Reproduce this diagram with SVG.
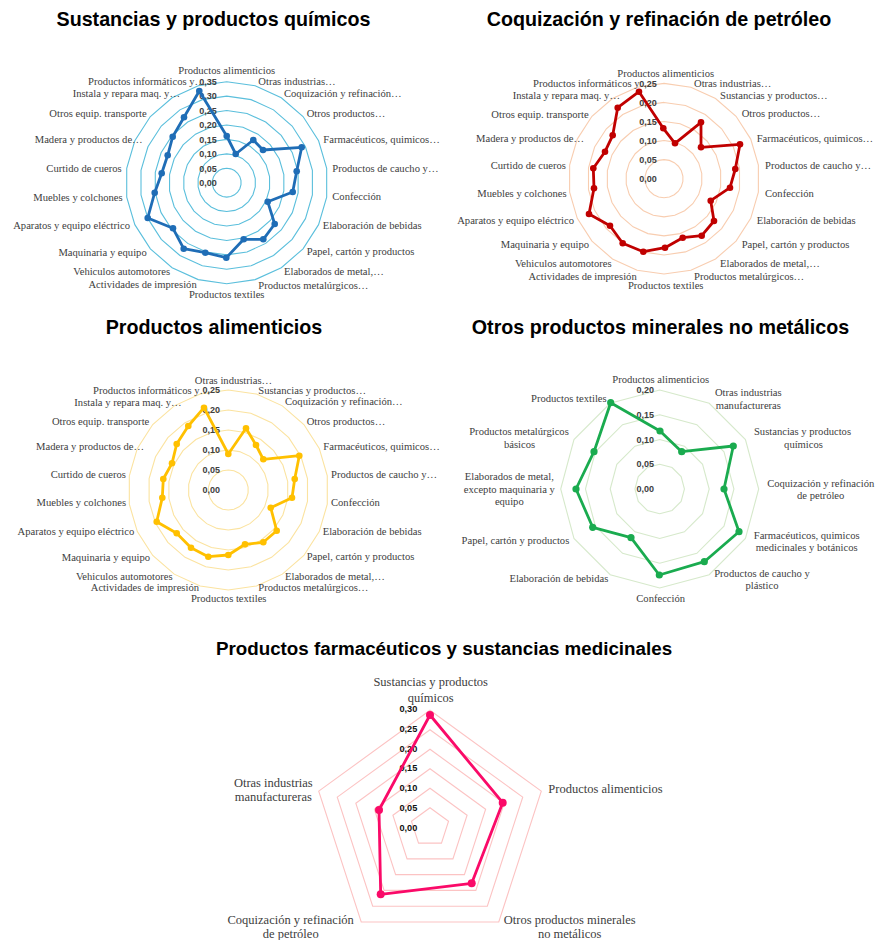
<svg xmlns="http://www.w3.org/2000/svg" xmlns:xlink="http://www.w3.org/1999/xlink" width="877" height="940" viewBox="0 0 877 940">
<style>
.bg{fill:#ffffff}
.t{font-family:"Liberation Sans",Arial,sans-serif;font-weight:bold;font-size:19.7px;fill:#000;text-anchor:middle}
.t5{font-size:18.8px}
.c{font-family:"Liberation Serif","Times New Roman",serif;font-size:10.6px;fill:#404040}
.c5{font-size:12.5px}
.s{text-anchor:start}
.e{text-anchor:end}
.m{text-anchor:middle}
.v{font-family:"Liberation Sans",Arial,sans-serif;font-weight:bold;font-size:9px;fill:#404040;text-anchor:end}
.v5{font-size:9.2px;fill:#111}
.r1{stroke:#5BBFDC}
.r2{stroke:#F8CDB0}
.r3{stroke:#FBE3A0}
.r4{stroke:#D6E9CB}
.r5{stroke:#FCC3C3}
.d{fill:none;stroke-width:2.8;stroke-linejoin:round}
.d1{stroke:#1F6DB6}.k1{fill:#1F6DB6}
.d2{stroke:#C00000}.k2{fill:#C00000}
.d3{stroke:#FFC000}.k3{fill:#FFC000}
.d4{stroke:#1AAB4F}.k4{fill:#1AAB4F}
.d5{stroke:#FA0A68}.k5{fill:#FA0A68}
</style>
<defs>
<polygon id="g22" fill="none" points="0,-100 28.17,-95.95 54.06,-84.13 75.57,-65.49 90.96,-41.54 98.98,-14.23 98.98,14.23 90.96,41.54 75.57,65.49 54.06,84.13 28.17,95.95 0,100 -28.17,95.95 -54.06,84.13 -75.57,65.49 -90.96,41.54 -98.98,14.23 -98.98,-14.23 -90.96,-41.54 -75.57,-65.49 -54.06,-84.13 -28.17,-95.95"/>
<polygon id="g12" fill="none" points="0,-100 50,-86.6 86.6,-50 100,0 86.6,50 50,86.6 0,100 -50,86.6 -86.6,50 -100,0 -86.6,-50 -50,-86.6"/>
<polygon id="g5" fill="none" points="0,-100 95.11,-30.9 58.78,80.9 -58.78,80.9 -95.11,-30.9"/>
</defs>
<rect class="bg" x="0" y="0" width="877" height="940"/>

<g id="chart-sustancias">
<text class="t" x="213.5" y="26">Sustancias y productos químicos</text>
<g id="grid1" class="r1">
<use xlink:href="#g22" transform="translate(226.7,182.7) scale(0.1443)" stroke-width="7.62"/>
<use xlink:href="#g22" transform="translate(226.7,182.7) scale(0.2886)" stroke-width="3.81"/>
<use xlink:href="#g22" transform="translate(226.7,182.7) scale(0.4329)" stroke-width="2.54"/>
<use xlink:href="#g22" transform="translate(226.7,182.7) scale(0.5772)" stroke-width="1.906"/>
<use xlink:href="#g22" transform="translate(226.7,182.7) scale(0.7215)" stroke-width="1.525"/>
<use xlink:href="#g22" transform="translate(226.7,182.7) scale(0.8658)" stroke-width="1.27"/>
<use xlink:href="#g22" transform="translate(226.7,182.7) scale(1.0101)" stroke-width="1.089"/>
</g>
<g class="c">
<text class="m" x="226.7" y="73.7">Productos alimenticios</text>
<text class="s" x="258.3" y="85.3">Otras industrias…</text>
<text class="s" x="284" y="97.3">Coquización y refinación…</text>
<text class="s" x="306.7" y="117">Otros productos…</text>
<text class="s" x="323.3" y="142.7">Farmacéuticos, quimicos…</text>
<text class="s" x="332.3" y="172">Productos de caucho y…</text>
<text class="s" x="332.3" y="200.3">Confección</text>
<text class="s" x="322.7" y="229.3">Elaboración de bebidas</text>
<text class="s" x="306.7" y="255.3">Papel, cartón y productos</text>
<text class="s" x="284" y="275.3">Elaborados de metal,…</text>
<text class="s" x="258.3" y="288.7">Productos metalúrgicos…</text>
<text class="m" x="226.7" y="298">Productos textiles</text>
<text class="e" x="196.7" y="287.7">Actividades de impresión</text>
<text class="e" x="170" y="275.3">Vehiculos automotores</text>
<text class="e" x="146.7" y="256">Maquinaria y equipo</text>
<text class="e" x="130" y="229.3">Aparatos y equipo eléctrico</text>
<text class="e" x="122.7" y="201">Muebles y colchones</text>
<text class="e" x="121.7" y="172">Curtido de cueros</text>
<text class="e" x="142.7" y="142.7">Madera y productos de…</text>
<text class="e" x="146.7" y="117">Otros equip. transporte</text>
<text class="e" x="180" y="97.3">Instala y repara maq. y…</text>
<text class="s" x="88" y="85.3">Productos informáticos y…</text>
</g>
<g class="v">
<text x="216.7" y="84.9">0,35</text><text x="216.7" y="99.3">0,30</text><text x="216.7" y="113.8">0,25</text><text x="216.7" y="128.2">0,20</text><text x="216.7" y="142.6">0,15</text><text x="216.7" y="157.1">0,10</text><text x="216.7" y="171.5">0,05</text><text x="216.7" y="185.9">0,00</text>
</g>
<polygon class="d d1" points="226.7,136 235.7,154 253.3,140 263,150 301.7,147.3 296.7,171.3 292.7,192 267.7,201.7 274.7,224 263.3,239.3 243.7,239.3 226.3,257.7 205.3,252.7 183.7,248.7 173,228.3 147.7,218 154.7,192.7 161.7,173.3 167.7,155.3 172.7,136.7 184,117.3 199.3,91"/>
<g class="k1">
<circle cx="226.7" cy="136" r="3.3"/><circle cx="235.7" cy="154" r="3.3"/><circle cx="253.3" cy="140" r="3.3"/><circle cx="263" cy="150" r="3.3"/><circle cx="301.7" cy="147.3" r="3.3"/><circle cx="296.7" cy="171.3" r="3.3"/><circle cx="292.7" cy="192" r="3.3"/><circle cx="267.7" cy="201.7" r="3.3"/><circle cx="274.7" cy="224" r="3.3"/><circle cx="263.3" cy="239.3" r="3.3"/><circle cx="243.7" cy="239.3" r="3.3"/><circle cx="226.3" cy="257.7" r="3.3"/><circle cx="205.3" cy="252.7" r="3.3"/><circle cx="183.7" cy="248.7" r="3.3"/><circle cx="173" cy="228.3" r="3.3"/><circle cx="147.7" cy="218" r="3.3"/><circle cx="154.7" cy="192.7" r="3.3"/><circle cx="161.7" cy="173.3" r="3.3"/><circle cx="167.7" cy="155.3" r="3.3"/><circle cx="172.7" cy="136.7" r="3.3"/><circle cx="184" cy="117.3" r="3.3"/><circle cx="199.3" cy="91" r="3.3"/>
</g>
</g>

<g id="chart-coquizacion">
<text class="t" x="659" y="26">Coquización y refinación de petróleo</text>
<g id="grid2" class="r2">
<use xlink:href="#g22" transform="translate(664,178.7) scale(0.1907)" stroke-width="5.77"/>
<use xlink:href="#g22" transform="translate(664,178.7) scale(0.3814)" stroke-width="2.88"/>
<use xlink:href="#g22" transform="translate(664,178.7) scale(0.5721)" stroke-width="1.92"/>
<use xlink:href="#g22" transform="translate(664,178.7) scale(0.7628)" stroke-width="1.44"/>
<use xlink:href="#g22" transform="translate(664,178.7) scale(0.9535)" stroke-width="1.154"/>
</g>
<g class="c">
<text class="m" x="665.7" y="77">Productos alimenticios</text>
<text class="s" x="694" y="87">Otras industrias…</text>
<text class="s" x="720" y="98.7">Sustancias y productos…</text>
<text class="s" x="741.7" y="117">Otros productos…</text>
<text class="s" x="756.7" y="141.7">Farmacéuticos, quimicos…</text>
<text class="s" x="765" y="168.7">Productos de caucho y…</text>
<text class="s" x="765" y="197">Confección</text>
<text class="s" x="756.7" y="223.7">Elaboración de bebidas</text>
<text class="s" x="741.7" y="248">Papel, cartón y productos</text>
<text class="s" x="720" y="267">Elaborados de metal,…</text>
<text class="s" x="694" y="279.7">Productos metalúrgicos…</text>
<text class="m" x="665.7" y="289">Productos textiles</text>
<text class="e" x="636.7" y="279.7">Actividades de impresión</text>
<text class="e" x="611.7" y="267">Vehiculos automotores</text>
<text class="e" x="589" y="248">Maquinaria y equipo</text>
<text class="e" x="574" y="223.7">Aparatos y equipo eléctrico</text>
<text class="e" x="566.7" y="197">Muebles y colchones</text>
<text class="e" x="566" y="168.7">Curtido de cueros</text>
<text class="e" x="584" y="141.7">Madera y productos de…</text>
<text class="e" x="588.7" y="117.7">Otros equip. transporte</text>
<text class="e" x="620" y="99">Instala y repara maq. y…</text>
<text class="s" x="533" y="87">Productos informáticos y…</text>
</g>
<g class="v">
<text x="656.7" y="86.5">0,25</text><text x="656.7" y="105.6">0,20</text><text x="656.7" y="124.7">0,15</text><text x="656.7" y="143.8">0,10</text><text x="656.7" y="162.8">0,05</text><text x="656.7" y="181.9">0,00</text>
</g>
<polygon class="d d2" points="663.3,128.3 675,143.3 701,122.3 701,147.3 740,144.3 735.3,169 730,187.7 710.7,200.7 714,221 701.7,235.7 682.7,237.7 665,247.7 643.3,251.7 622.7,243.3 610,225.7 589,214 594,188.3 593.3,168.3 605,151.7 612.7,135.3 617.7,107.7 639,91.7"/>
<g class="k2">
<circle cx="663.3" cy="128.3" r="3.3"/><circle cx="675" cy="143.3" r="3.3"/><circle cx="701" cy="122.3" r="3.3"/><circle cx="701" cy="147.3" r="3.3"/><circle cx="740" cy="144.3" r="3.3"/><circle cx="735.3" cy="169" r="3.3"/><circle cx="730" cy="187.7" r="3.3"/><circle cx="710.7" cy="200.7" r="3.3"/><circle cx="714" cy="221" r="3.3"/><circle cx="701.7" cy="235.7" r="3.3"/><circle cx="682.7" cy="237.7" r="3.3"/><circle cx="665" cy="247.7" r="3.3"/><circle cx="643.3" cy="251.7" r="3.3"/><circle cx="622.7" cy="243.3" r="3.3"/><circle cx="610" cy="225.7" r="3.3"/><circle cx="589" cy="214" r="3.3"/><circle cx="594" cy="188.3" r="3.3"/><circle cx="593.3" cy="168.3" r="3.3"/><circle cx="605" cy="151.7" r="3.3"/><circle cx="612.7" cy="135.3" r="3.3"/><circle cx="617.7" cy="107.7" r="3.3"/><circle cx="639" cy="91.7" r="3.3"/>
</g>
</g>

<g id="chart-alimenticios">
<text class="t" x="214" y="334">Productos alimenticios</text>
<g id="grid3" class="r3">
<use xlink:href="#g22" transform="translate(228.3,490) scale(0.2)" stroke-width="5.5"/>
<use xlink:href="#g22" transform="translate(228.3,490) scale(0.4)" stroke-width="2.75"/>
<use xlink:href="#g22" transform="translate(228.3,490) scale(0.6)" stroke-width="1.833"/>
<use xlink:href="#g22" transform="translate(228.3,490) scale(0.8)" stroke-width="1.375"/>
<use xlink:href="#g22" transform="translate(228.3,490) scale(1)" stroke-width="1.1"/>
</g>
<g class="c">
<text class="m" x="233.5" y="383.7">Otras industrias…</text>
<text class="s" x="258.3" y="393.7">Sustancias y productos…</text>
<text class="s" x="285" y="405.3">Coquización y refinación…</text>
<text class="s" x="306.7" y="425.3">Otros productos…</text>
<text class="s" x="323.3" y="450.3">Farmacéuticos, quimicos…</text>
<text class="s" x="331" y="478">Productos de caucho y…</text>
<text class="s" x="331" y="506.3">Confección</text>
<text class="s" x="322.7" y="534.7">Elaboración de bebidas</text>
<text class="s" x="306.7" y="560.3">Papel, cartón y productos</text>
<text class="s" x="285" y="579.7">Elaborados de metal,…</text>
<text class="s" x="258.3" y="591.3">Productos metalúrgicos…</text>
<text class="m" x="228.7" y="602">Productos textiles</text>
<text class="e" x="199" y="591.3">Actividades de impresión</text>
<text class="e" x="172.7" y="579.7">Vehiculos automotores</text>
<text class="e" x="150" y="561">Maquinaria y equipo</text>
<text class="e" x="134.3" y="535.3">Aparatos y equipo eléctrico</text>
<text class="e" x="126" y="506.3">Muebles y colchones</text>
<text class="e" x="126" y="478">Curtido de cueros</text>
<text class="e" x="144" y="450.3">Madera y productos de…</text>
<text class="e" x="149.3" y="425.3">Otros equip. transporte</text>
<text class="e" x="181.7" y="406">Instala y repara maq. y…</text>
<text class="s" x="93" y="393.7">Productos informáticos y…</text>
</g>
<g class="v">
<text x="220" y="393.2">0,25</text><text x="220" y="413.2">0,20</text><text x="220" y="433.2">0,15</text><text x="220" y="453.2">0,10</text><text x="220" y="473.2">0,05</text><text x="220" y="493.2">0,00</text>
</g>
<polygon class="d d3" points="228.3,454 246,428.3 256,445 263.3,459.3 299.3,455.7 294.7,479 292,497.7 270.7,507.7 276.7,530.7 263.3,542.3 245,544.3 228.3,555 208.3,556.7 191,547.7 176.7,533.3 156.7,521.7 162.3,497.7 163.3,479 172,463.3 176.7,444 188.3,426 204,407.7"/>
<g class="k3">
<circle cx="228.3" cy="454" r="3.3"/><circle cx="246" cy="428.3" r="3.3"/><circle cx="256" cy="445" r="3.3"/><circle cx="263.3" cy="459.3" r="3.3"/><circle cx="299.3" cy="455.7" r="3.3"/><circle cx="294.7" cy="479" r="3.3"/><circle cx="292" cy="497.7" r="3.3"/><circle cx="270.7" cy="507.7" r="3.3"/><circle cx="276.7" cy="530.7" r="3.3"/><circle cx="263.3" cy="542.3" r="3.3"/><circle cx="245" cy="544.3" r="3.3"/><circle cx="228.3" cy="555" r="3.3"/><circle cx="208.3" cy="556.7" r="3.3"/><circle cx="191" cy="547.7" r="3.3"/><circle cx="176.7" cy="533.3" r="3.3"/><circle cx="156.7" cy="521.7" r="3.3"/><circle cx="162.3" cy="497.7" r="3.3"/><circle cx="163.3" cy="479" r="3.3"/><circle cx="172" cy="463.3" r="3.3"/><circle cx="176.7" cy="444" r="3.3"/><circle cx="188.3" cy="426" r="3.3"/><circle cx="204" cy="407.7" r="3.3"/>
</g>
</g>

<g id="chart-minerales">
<text class="t" x="660.5" y="334">Otros productos minerales no metálicos</text>
<g id="grid4" class="r4">
<use xlink:href="#g12" transform="translate(659.7,489) scale(0.2475)" stroke-width="4.44"/>
<use xlink:href="#g12" transform="translate(659.7,489) scale(0.495)" stroke-width="2.22"/>
<use xlink:href="#g12" transform="translate(659.7,489) scale(0.7425)" stroke-width="1.48"/>
<use xlink:href="#g12" transform="translate(659.7,489) scale(0.99)" stroke-width="1.11"/>
</g>
<g class="v">
<text x="654" y="393.2">0,20</text><text x="654" y="417.9">0,15</text><text x="654" y="442.5">0,10</text><text x="654" y="467.2">0,05</text><text x="654" y="492.2">0,00</text>
</g>
<g class="c">
<text class="m" x="660.7" y="382.7">Productos alimenticios</text>
<text class="m" x="748.3" y="396">Otras industrias</text>
<text class="m" x="748.3" y="408.7">manufactureras</text>
<text class="m" x="802.5" y="434.7">Sustancias y productos</text>
<text class="m" x="803.5" y="447.7">químicos</text>
<text class="m" x="820.7" y="487">Coquización y refinación</text>
<text class="m" x="820.7" y="498.7">de petróleo</text>
<text class="m" x="806.7" y="538.7">Farmacéuticos, quimicos</text>
<text class="m" x="806.7" y="551">medicinales y botánicos</text>
<text class="m" x="762" y="577">Productos de caucho y</text>
<text class="m" x="762" y="588.7">plástico</text>
<text class="m" x="660.7" y="602">Confección</text>
<text class="e" x="608.3" y="582">Elaboración de bebidas</text>
<text class="e" x="569.3" y="544.3">Papel, cartón y productos</text>
<text class="m" x="509.3" y="480.3">Elaborados de metal,</text>
<text class="m" x="509.3" y="492.7">excepto maquinaria y</text>
<text class="m" x="509.3" y="504.7">equipo</text>
<text class="m" x="519" y="434.7">Productos metalúrgicos</text>
<text class="m" x="519.5" y="447.7">básicos</text>
<text class="e" x="606.7" y="402">Productos textiles</text>
</g>
<polygon class="d d4" points="660,431 681.7,451.7 733.3,446 724,489 739,531.7 704.3,561.7 659.3,575 631,537.7 592.7,527.3 576,489 594,451.7 610.7,402.7"/>
<g class="k4">
<circle cx="660" cy="431" r="3.6"/><circle cx="681.7" cy="451.7" r="3.6"/><circle cx="733.3" cy="446" r="3.6"/><circle cx="724" cy="489" r="3.6"/><circle cx="739" cy="531.7" r="3.6"/><circle cx="704.3" cy="561.7" r="3.6"/><circle cx="659.3" cy="575" r="3.6"/><circle cx="631" cy="537.7" r="3.6"/><circle cx="592.7" cy="527.3" r="3.6"/><circle cx="576" cy="489" r="3.6"/><circle cx="594" cy="451.7" r="3.6"/><circle cx="610.7" cy="402.7" r="3.6"/>
</g>
</g>

<g id="chart-farmaceuticos">
<text class="t t5" x="444" y="655">Productos farmacéuticos y sustancias medicinales</text>
<g id="grid5" class="r5">
<use xlink:href="#g5" transform="translate(430,827.3) scale(0.195)" stroke-width="5.64"/>
<use xlink:href="#g5" transform="translate(430,827.3) scale(0.39)" stroke-width="2.82"/>
<use xlink:href="#g5" transform="translate(430,827.3) scale(0.585)" stroke-width="1.88"/>
<use xlink:href="#g5" transform="translate(430,827.3) scale(0.78)" stroke-width="1.41"/>
<use xlink:href="#g5" transform="translate(430,827.3) scale(0.975)" stroke-width="1.128"/>
<use xlink:href="#g5" transform="translate(430,827.3) scale(1.17)" stroke-width="0.94"/>
</g>
<g class="v v5">
<text x="417.3" y="711.7">0,30</text><text x="417.3" y="731.7">0,25</text><text x="417.3" y="751.7">0,20</text><text x="417.3" y="771.4">0,15</text><text x="417.3" y="791.1">0,10</text><text x="417.3" y="811.1">0,05</text><text x="417.3" y="831.1">0,00</text>
</g>
<g class="c c5">
<text class="m" x="430.7" y="686">Sustancias y productos</text>
<text class="m" x="430.7" y="701.5">químicos</text>
<text class="s" x="548.3" y="793.3">Productos alimenticios</text>
<text class="m" x="569.7" y="924.3">Otros productos minerales</text>
<text class="m" x="569.7" y="937.6">no metálicos</text>
<text class="m" x="290.7" y="924.3">Coquización y refinación</text>
<text class="m" x="290.7" y="937.6">de petróleo</text>
<text class="m" x="273.3" y="786.6">Otras industrias</text>
<text class="m" x="273.3" y="801">manufactureras</text>
</g>
<polygon class="d d5" stroke-width="3" points="430,715 502.7,802.7 471.7,883.3 380.7,894.3 379,810"/>
<g class="k5">
<circle cx="430" cy="715" r="4"/><circle cx="502.7" cy="802.7" r="4"/><circle cx="471.7" cy="883.3" r="4"/><circle cx="380.7" cy="894.3" r="4"/><circle cx="379" cy="810" r="4"/>
</g>
</g>
</svg>
